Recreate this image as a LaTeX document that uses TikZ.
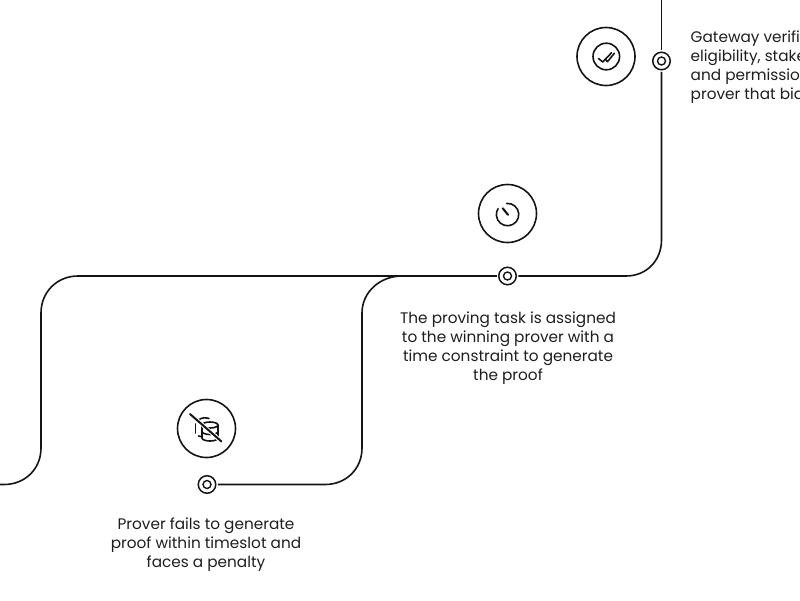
\documentclass[tikz,border=0pt]{standalone}
\usepackage{fontspec}
\setmainfont{Poppins}
\begin{document}
\begin{tikzpicture}[x=1pt,y=-1pt,
  line/.style={draw=ink,line width=1.6pt},
  ring/.style={circle,draw=ink,line width=1.5pt,minimum size=17.5pt,inner sep=0pt,outer sep=2pt},
  hole/.style={circle,draw=ink,line width=1.4pt,minimum size=8pt,inner sep=0pt},
  badge/.style={circle,draw=ink,line width=1.6pt,minimum size=58pt,inner sep=0pt},
  icon/.style={draw=ink,line width=1.6pt,line cap=round,line join=round},
  caption/.style={text=txt,font=\fontsize{15.3pt}{19pt}\selectfont,inner sep=0pt},
  captionc/.style={caption,align=center,anchor=north},
  captionl/.style={caption,align=left,anchor=north west}]
\definecolor{ink}{HTML}{141414}
\definecolor{txt}{HTML}{1E1E1E}
\useasboundingbox (0,0) rectangle (800,600);
\node[ring] (r1) at (661.5,61) {};
\node[hole] at (r1) {};
\node[ring] (r2) at (507.5,276) {};
\node[hole] at (r2) {};
\node[ring] (r3) at (207,484.5) {};
\node[hole] at (r3) {};
\node[badge] (b1) at (606,56.5) {};
\node[badge] (b2) at (507.5,213.5) {};
\node[badge] (b3) at (206.5,428.5) {};
\coordinate (top) at (661.5,-2);
\coordinate (off) at (-2,484.5);
\coordinate (j) at (402,276);
\draw[line] (top) -- (r1.north);
\draw[line] (r1.south) -- (661.5,240) .. controls (661.5,260) and (647,276) .. (626,276) -- (r2.east);
\draw[line] (r2.west) -- (j) -- (78,276) .. controls (57,276) and (41,292) .. (41,313) -- (41,448) .. controls (41,469) and (25,484.5) .. (4,484.5) -- (off);
\draw[line] (j) .. controls (380,276) and (362,292) .. (362,313) -- (362,448) .. controls (362,469) and (346,484.5) .. (325,484.5) -- (r3.east);
% check icon
\draw[icon] (606.3,56.5) circle (13.3);
\draw[icon] (598.5,58.5) -- (602.7,62) -- (611.5,52.8);
\draw[icon] (605.5,59.5) -- (607.5,61.7) -- (614.3,53.3);
% timer icon
\draw[icon] (506.6,203.4) arc[start angle=-95,end angle=212,radius=11.2];
\draw[line width=2.1pt,draw=ink,line cap=round] (502.7,208.3) -- (508,214.8);
% database icon
\draw[icon] (210,425) ellipse (8 and 3);
\draw[icon] (202,425) -- (202,438) arc[start angle=180,end angle=0,x radius=8,y radius=3] -- (218,425);
\draw[icon] (202,431.5) arc[start angle=180,end angle=0,x radius=8,y radius=3];
\draw[icon] (195.5,424) -- (195.5,433);
\draw[icon] (198.5,436) -- (201,436.5);
\draw[icon] (199,419.5) .. controls (202,417.5) and (206,417.5) .. (209,418.5);
\draw[draw=white,line width=4pt] (190,414) -- (221.5,441.5);
\draw[draw=ink,line width=2pt,line cap=round] (190,414) -- (221.5,441.5);
\node[captionl] (t1) at (690.5,30.5) {Gateway verifi\\eligibility, stake\\and permissio\\prover that bid};
\node[captionc] (t2) at (508,311.5) {The proving task is assigned\\to the winning prover with a\\time constraint to generate\\the proof};
\node[captionc] (t3) at (206,517.5) {Prover fails to generate\\proof within timeslot and\\faces a penalty};
\end{tikzpicture}
\end{document}
